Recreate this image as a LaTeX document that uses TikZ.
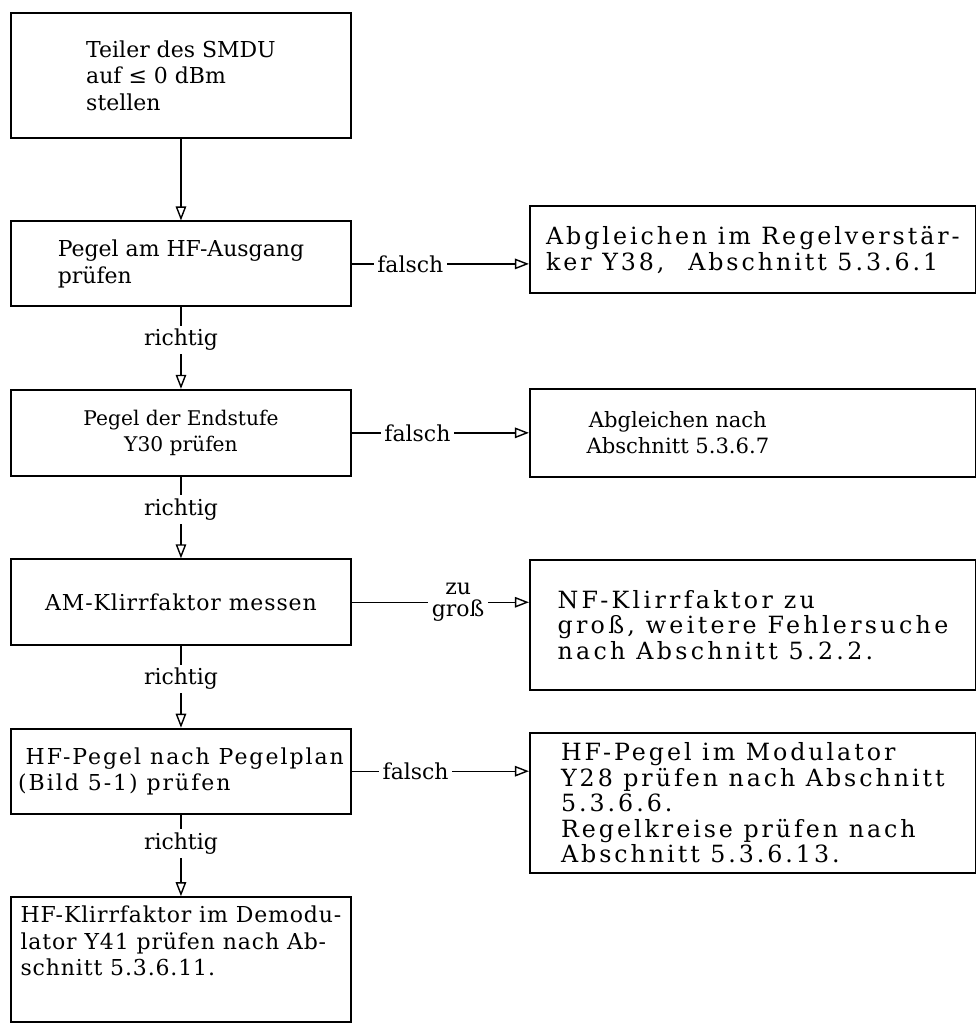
\documentclass[tikz,border=0pt]{standalone}
\usepackage{fontspec}
\setmainfont{DejaVu Serif}
\usepackage{tikz}
\usetikzlibrary{positioning, arrows.meta}

\begin{document}
\begin{tikzpicture}[
        node distance=1.63cm and 3.54cm,
        stepbox/.style={
            draw,
            rectangle,
            line width=1.1pt,
            fill=white,
            font=\fontsize{12.5}{15}\selectfont,
            inner sep=4pt
        },
        tracking/.style={
            font=\fontsize{12.5}{15}\selectfont\addfontfeatures{LetterSpace=#1}
        },
        widetype/.style={
            font=\fontsize{13.5}{14.5}\selectfont\addfontfeatures{LetterSpace=#1},
            inner xsep=2pt
        },
        mainbox/.style={
            stepbox,
            minimum width=6.8cm,
            minimum height=1.7cm
        },
        sidebox/.style={
            stepbox,
            minimum width=8.92cm,
            minimum height=1.76cm
        },
        arrow/.style={
            -{Triangle[open, length=8pt, width=6pt]},
            line width=0.8pt
        },
        answer/.style={
            fill=white,
            inner sep=2pt,
            font=\fontsize{12.5}{13}\selectfont
        }
    ]
        \useasboundingbox (0,0) rectangle (19.5,-20.6);

        % Pruefschritte (linke Spalte)
        \node (divider) [mainbox, align=left, minimum height=2.5cm, anchor=north west] at (0.2,-0.24) {Teiler des SMDU\\auf ≤ 0 dBm\\stellen};
        \node (hfout) [mainbox, align=left, below=of divider] {Pegel am HF-Ausgang\\prüfen};
        \node (endstufe) [mainbox, align=center, font=\fontsize{11.5}{15}\selectfont, minimum height=1.72cm, below=of hfout] {Pegel der Endstufe\\Y30 prüfen};
        \node (amk) [mainbox, tracking=4, minimum height=1.72cm, below=of endstufe] {AM-Klirrfaktor messen};
        \node (pegelplan) [mainbox, tracking=9, align=left, below=of amk] {\hspace*{0.15cm}HF-Pegel nach Pegelplan\\(Bild 5-1) prüfen};
        \node (demod) [mainbox, tracking=4, inner xsep=2pt, align=left, minimum height=2.5cm, text depth=0.75cm, below=of pegelplan] {HF-Klirrfaktor im Demodu-\\lator Y41 prüfen nach Ab-\\schnitt 5.3.6.11.};

        % Abhilfen (rechte Spalte)
        \node (fixreg) [sidebox, widetype=12.5, align=left, minimum height=1.74cm, right=of hfout, yshift=0.28cm] {Abgleichen im Regelverstär-\\ker Y38,\quad Abschnitt 5.3.6.1};
        \node (fixend) [sidebox, align=center, font=\fontsize{12}{15}\selectfont, right=of endstufe] {Abgleichen nach\hspace*{3cm}\\Abschnitt 5.3.6.7\hspace*{3cm}};
        \node (nfk) [sidebox, widetype=14, align=left, minimum height=2.6cm, right=of amk, yshift=-0.45cm] {NF-Klirrfaktor zu\\groß, weitere Fehlersuche\\nach Abschnitt 5.2.2.};
        \node (modcheck) [sidebox, widetype=12.5, align=left, minimum height=2.8cm, right=of pegelplan, yshift=-0.63cm] {HF-Pegel im Modulator\\Y28 prüfen nach Abschnitt\\5.3.6.6.\\Regelkreise prüfen nach\\Abschnitt 5.3.6.13.};

        % Verbindungen
        \draw [arrow] (divider) -- (hfout);
        \draw [arrow] (hfout) -- node[answer, pos=0.4] {richtig} (endstufe);
        \draw [arrow] (endstufe) -- node[answer, pos=0.4] {richtig} (amk);
        \draw [arrow] (amk) -- node[answer, pos=0.4] {richtig} (pegelplan);
        \draw [arrow] (pegelplan) -- node[answer, pos=0.35] {richtig} (demod);

        \draw [arrow] (hfout.east) -- node[answer, pos=0.33] {falsch} (hfout.east -| fixreg.west);
        \draw [arrow] (endstufe.east) -- node[answer, pos=0.37] {falsch} (endstufe.east -| fixend.west);
        \draw [arrow] (amk.east) -- node[answer, align=center, pos=0.6] {zu\\groß} (amk.east -| nfk.west);
        \draw [arrow] (pegelplan.east) -- node[answer, pos=0.36] {falsch} (pegelplan.east -| modcheck.west);
\end{tikzpicture}
\end{document}
